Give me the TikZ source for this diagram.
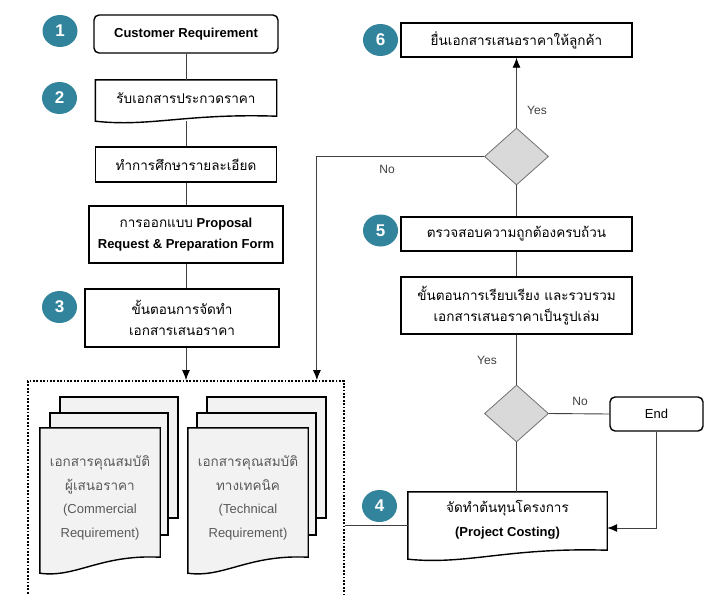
\documentclass[tikz,border=0pt]{standalone}
\usepackage{fontspec}
\setmainfont{Liberation Sans}
\newfontfamily\thai[Script=Thai,Scale=1.04]{Loma}
\usetikzlibrary{shapes.geometric,arrows.meta,calc}
\definecolor{tealc}{HTML}{31849B}
\definecolor{docfill}{HTML}{F2F2F2}
\definecolor{diafill}{HTML}{D9D9D9}
\definecolor{diaedge}{HTML}{707070}
\definecolor{linec}{HTML}{404040}
\definecolor{doctext}{HTML}{595959}
\newcommand\docdraw[4]{\draw[#4] (#1.north west) -- (#1.north east) -- (#1.south east) .. controls ($(#1.south)+(0,-3)$) and ($(#1.south west)!0.3!(#1.south east)+(0,#2+#3)$) .. ($(#1.south west)+(0,#2)$) -- cycle;}
\tikzset{
  base/.style={font=\fontsize{13}{21}\selectfont, align=center, inner sep=0pt},
  boxline/.style={draw=black, line width=1.4pt, fill=white},
  box/.style={base, boxline},
  rbox/.style={box, rounded corners=5pt},
  docnode/.style={base, draw=none, fill=none},
  pagefill/.style={draw=black, line width=1.4pt, fill=docfill},
  num/.style={ellipse, fill=tealc, minimum width=35pt, minimum height=32pt, inner sep=0pt, text=white, font=\fontsize{17}{17}\selectfont\bfseries},
  dia/.style={diamond, draw=diaedge, fill=diafill, line width=0.8pt, minimum width=64pt, minimum height=57pt, inner sep=0pt},
  conn/.style={draw=linec, line width=0.9pt},
  arr/.style={conn, -{Latex[length=10pt,width=8pt,color=black]}},
  lbl/.style={font=\fontsize{12}{12}\selectfont, text=linec, inner sep=0pt},
  doctxt/.style={base, text=doctext, font=\fontsize{13}{23.5}\selectfont},
}
\begin{document}
\begin{tikzpicture}[x=1pt,y=-1pt]
\useasboundingbox (0,0) rectangle (711,594);

% left column
\node[rbox, minimum width=184pt, minimum height=38pt, font=\fontsize{13}{21}\selectfont\bfseries] (b1) at (186,34) {Customer Requirement};
\path node[docnode, minimum width=181pt, minimum height=36pt] (b2) at (186,98) {};
\docdraw{b2}{5}{6}{boxline}
\node[base] (t2) at (b2) {\thai รับเอกสารประกวดราคา};
\node[box, minimum width=181pt, minimum height=35pt] (b3) at (186,164.5) {\thai ทำการศึกษารายละเอียด};
\node[box, minimum width=194pt, minimum height=57pt] (b4) at (186,234.5) {{\thai การออกแบบ} \textbf{Proposal}\\\textbf{Request \& Preparation Form}};
\node[box, minimum width=194pt, minimum height=58pt] (b5) at (182,318) {{\thai ขั้นตอนการจัดทำ}\\{\thai เอกสารเสนอราคา}};

\node[num] (n1) at (60,31) {1};
\node[num] (n2) at (59.5,98) {2};
\node[num] (n3) at (59.5,307) {3};

\draw[conn] (b1.south) -- (b2.north);
\draw[conn] ($(b2.south)+(0,5)$) -- (b3.north);
\draw[conn] (b3.south) -- (b4.north);
\draw[conn] (b4.south) -- (b4.south |- b5.north);

% dotted group
\node[draw=black, line width=1.8pt, dash pattern=on 1.8pt off 1.6pt, minimum width=316pt, minimum height=218pt, inner sep=0pt] (dots) at (186,490) {};
\draw[arr] (b5.south -| b4.south) -- (b4.south |- dots.north);

% document stacks
\draw[pagefill] (60,397) rectangle (178,518);
\draw[pagefill] (50,413) rectangle (168,535);
\path node[docnode, minimum width=120pt, minimum height=129pt] (fl) at (100,492.5) {};
\docdraw{fl}{16}{5}{pagefill}
\node[doctxt] (tl) at (100,498) {{\thai เอกสารคุณสมบัติ}\\{\thai ผู้เสนอราคา}\\(Commercial\\Requirement)};

\draw[pagefill] (207,397) rectangle (326,518);
\draw[pagefill] (197,413) rectangle (316,535);
\path node[docnode, minimum width=120pt, minimum height=129pt] (fr) at (248,492.5) {};
\docdraw{fr}{16}{5}{pagefill}
\node[doctxt] (tr) at (248,498) {{\thai เอกสารคุณสมบัติ}\\{\thai ทางเทคนิค}\\(Technical\\Requirement)};

% right column
\node[box, minimum width=231pt, minimum height=34pt] (b6) at (516.5,40) {\thai ยื่นเอกสารเสนอราคาให้ลูกค้า};
\node[dia] (d1) at (516.5,156.5) {};
\node[box, minimum width=231pt, minimum height=34pt] (b7) at (516.5,234) {\thai ตรวจสอบความถูกต้องครบถ้วน};
\node[box, minimum width=231pt, minimum height=57pt] (b8) at (516.5,305.5) {{\thai ขั้นตอนการเรียบเรียง และรวบรวม}\\{\thai เอกสารเสนอราคาเป็นรูปเล่ม}};
\node[dia] (d2) at (516.5,413.5) {};
\node[rbox, minimum width=93pt, minimum height=34pt] (end) at (656.5,414) {End};
\path node[docnode, minimum width=199pt, minimum height=58pt] (pc) at (507.5,521) {};
\docdraw{pc}{9}{6}{boxline}
\node[base, font=\fontsize{13}{24}\selectfont] (tpc) at (507.5,520) {{\thai จัดทำต้นทุนโครงการ}\\\textbf{(Project Costing)}};

\node[num] (n6) at (380.5,40) {6};
\node[num] (n5) at (380.5,230.5) {5};
\node[num] (n4) at (379.5,506) {4};

\draw[arr] (d1.north) -- (b6.south);
\draw[arr] (d1.west) -| ($(dots.north east)+(-28,0)$);
\draw[conn] (d1.south) -- (b7.north);
\draw[conn] (b7.south) -- (b8.north);
\draw[conn] (b8.south) -- (d2.north);
\draw[conn] (d2.east) -- (end.west);
\draw[conn] (d2.south) -- (d2.south |- pc.north);
\draw[arr] (end.south) |- ($(pc.east)+(0,7)$);
\draw[conn] (dots.east |- {$(pc.west)+(0,4)$}) -- ($(pc.west)+(0,4)$);

\node[lbl] (y1) at (537,110) {Yes};
\node[lbl] (no1) at (387,169) {No};
\node[lbl] (y2) at (487,360) {Yes};
\node[lbl] (no2) at (580,401) {No};
\end{tikzpicture}
\end{document}
